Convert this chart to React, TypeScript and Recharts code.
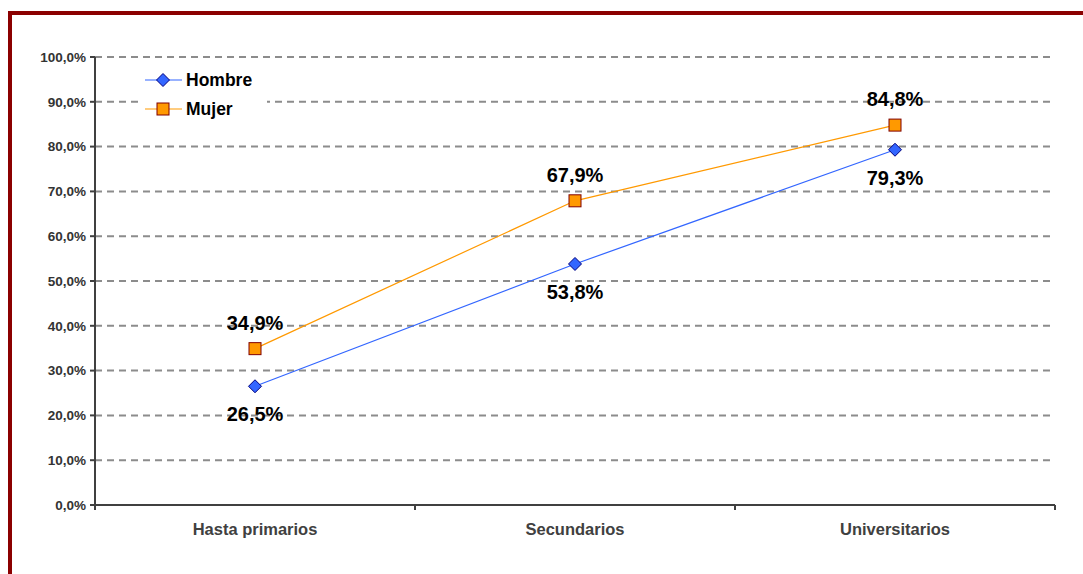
import React from "react";
import { LineChart, Line, XAxis, YAxis, CartesianGrid, LabelList } from "recharts";

const categories = ["Hasta primarios", "Secundarios", "Universitarios"];
const hombre = [26.5, 53.8, 79.3];
const mujer = [34.9, 67.9, 84.8];
const yTicks = [0, 10, 20, 30, 40, 50, 60, 70, 80, 90, 100];

const data = categories.map((c, i) => ({ cat: c, Hombre: hombre[i], Mujer: mujer[i] }));

const W = 1083;
const H = 574;
const MARGIN = { top: 57, right: 28, bottom: 0, left: 0 };
const Y_W = 95;
const X_H = 69;
const HALF_BAND = (W - MARGIN.right - Y_W) / categories.length / 2;

const fmt = (v: number) => `${v.toFixed(1).replace(".", ",")}%`;

const HOMBRE_LINE = "#3366FF";
const HOMBRE_FILL = "#3366FF";
const HOMBRE_EDGE = "#000080";
const MUJER_LINE = "#FF9900";
const MUJER_FILL = "#FF9900";
const MUJER_EDGE = "#800000";
const FONT = "Liberation Sans, Arial, sans-serif";

const Diamond = (props: any) => {
  const { cx, cy } = props;
  if (cx == null || cy == null) return null;
  const r = 6.5;
  return (
    <path
      d={`M${cx},${cy - r} L${cx + r},${cy} L${cx},${cy + r} L${cx - r},${cy} Z`}
      fill={HOMBRE_FILL}
      stroke={HOMBRE_EDGE}
      strokeWidth={1}
    />
  );
};

const Square = (props: any) => {
  const { cx, cy } = props;
  if (cx == null || cy == null) return null;
  const s = 12;
  return <rect x={cx - s / 2} y={cy - s / 2} width={s} height={s} fill={MUJER_FILL} stroke={MUJER_EDGE} strokeWidth={1} />;
};

const makeLabel = (dy: number) => (props: any) => {
  const x = props.x ?? props.viewBox?.x;
  const y = props.y ?? props.viewBox?.y;
  if (x == null || y == null) return null;
  return (
    <text x={x} y={y + dy} textAnchor="middle" dominantBaseline="central" fontFamily={FONT} fontWeight="bold" fontSize={20} fill="#000">
      {fmt(Number(props.value))}
    </text>
  );
};

const XTick = (props: any) => {
  const { x, y, payload, index } = props;
  const last = index === categories.length - 1;
  return (
    <g>
      <line x1={x - HALF_BAND} y1={y} x2={x - HALF_BAND} y2={y + 5} stroke="#404040" strokeWidth={2} />
      {last && <line x1={x + HALF_BAND} y1={y} x2={x + HALF_BAND} y2={y + 5} stroke="#404040" strokeWidth={2} />}
      <text x={x} y={y + 24} textAnchor="middle" dominantBaseline="central" fontFamily={FONT} fontWeight="bold" fontSize={16.5} fill="#404040">
        {payload.value}
      </text>
    </g>
  );
};

const LegendBox = () => (
  <svg width={125} height={58} style={{ position: "absolute", left: 142, top: 67 }}>
    <rect x={0} y={0} width={125} height={58} fill="#fff" />
    <line x1={3} y1={13} x2={40} y2={13} stroke={HOMBRE_LINE} strokeWidth={1.2} />
    <Diamond cx={21} cy={13} />
    <text x={44} y={13} dominantBaseline="central" fontFamily={FONT} fontWeight="bold" fontSize={17.5} fill="#000">
      Hombre
    </text>
    <line x1={3} y1={42} x2={40} y2={42} stroke={MUJER_LINE} strokeWidth={1.2} />
    <Square cx={21} cy={42} />
    <text x={44} y={42} dominantBaseline="central" fontFamily={FONT} fontWeight="bold" fontSize={17.5} fill="#000">
      Mujer
    </text>
  </svg>
);

export default function App() {
  return (
    <div style={{ position: "absolute", left: 0, top: 0, width: W, height: H, overflow: "hidden", background: "#fff" }}>
      <div
        style={{
          position: "absolute",
          left: 8,
          top: 11,
          width: 1120,
          height: 620,
          border: "4px solid #8B0000",
          boxSizing: "border-box",
        }}
      />
      <div style={{ position: "absolute", left: 0, top: 0 }}>
        <LineChart width={W} height={H} data={data} margin={MARGIN}>
          <CartesianGrid vertical={false} stroke="#8c8c8c" strokeDasharray="7 5" strokeWidth={2} />
          <XAxis
            dataKey="cat"
            height={X_H}
            tickLine={false}
            tickSize={0}
            tickMargin={0}
            interval={0}
            padding={{ left: HALF_BAND, right: HALF_BAND }}
            axisLine={{ stroke: "#404040", strokeWidth: 2 }}
            tick={<XTick />}
          />
          <YAxis
            width={Y_W}
            domain={[0, 100]}
            ticks={yTicks}
            interval={0}
            tickFormatter={fmt}
            tickSize={5}
            tickMargin={4}
            axisLine={{ stroke: "#404040", strokeWidth: 2 }}
            tickLine={{ stroke: "#404040", strokeWidth: 2 }}
            tick={{ fontFamily: FONT, fontWeight: "bold", fontSize: 13.5, fill: "#333" }}
          />
          <Line dataKey="Hombre" stroke={HOMBRE_LINE} strokeWidth={1.2} dot={<Diamond />} activeDot={false} isAnimationActive={false}>
            <LabelList dataKey="Hombre" content={makeLabel(28)} />
          </Line>
          <Line dataKey="Mujer" stroke={MUJER_LINE} strokeWidth={1.2} dot={<Square />} activeDot={false} isAnimationActive={false}>
            <LabelList dataKey="Mujer" content={makeLabel(-26)} />
          </Line>
        </LineChart>
      </div>
      <LegendBox />
    </div>
  );
}
